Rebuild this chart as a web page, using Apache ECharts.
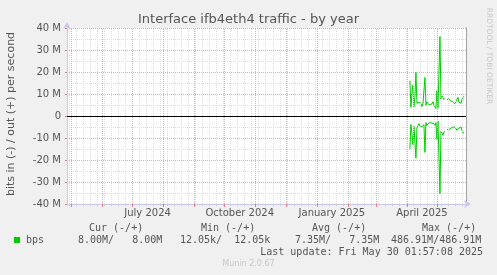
<!DOCTYPE html>
<html><head><meta charset="utf-8">
<script src="https://cdn.jsdelivr.net/npm/echarts@6/dist/echarts.min.js"></script>
<style>html,body{margin:0;padding:0;background:#f0f0f0}#c{width:497px;height:275px}</style>
</head><body><div id="c"></div>
<script>
// ---- data (values in M bits/s) ----
const days = [
 '2025-04-04','2025-04-05','2025-04-06','2025-04-07','2025-04-08','2025-04-09','2025-04-10','2025-04-11',
 '2025-04-12','2025-04-13','2025-04-14','2025-04-15','2025-04-16','2025-04-17','2025-04-18','2025-04-19',
 '2025-04-20','2025-04-21','2025-04-22','2025-04-23','2025-04-24','2025-04-25','2025-04-26','2025-04-27',
 '2025-04-28','2025-04-29','2025-04-30','2025-05-01','2025-05-02','2025-05-03','2025-05-04','2025-05-05',
 '2025-05-06','2025-05-07','2025-05-08','2025-05-09','2025-05-10','2025-05-11','2025-05-12','2025-05-13',
 '2025-05-14','2025-05-15','2025-05-16','2025-05-17','2025-05-18','2025-05-19','2025-05-20','2025-05-21',
 '2025-05-22','2025-05-23','2025-05-24','2025-05-25','2025-05-26','2025-05-27','2025-05-28'
];
const outM = [
 16.1, 3.9, 10.0, 14.1, 4.0, 9.0, 19.8, 5.8,
 5.0, 6.2, 5.5, 5.8, 4.3, 5.5, 6.0, 17.5,
 4.9, 6.5, 5.5, 6.0, 5.2, 6.0, 5.5, 6.5,
 5.0, 4.5, 3.4, 11.5, 3.5, 4.0, 36.1, 7.7,
 9.2, 8.5, 7.5, 8.0, null, 7.4, 8.0, 7.8,
 8.5, 6.9, 7.4, 6.5, 7.2, 5.4, 6.8, 7.6,
 8.5, 6.2, 6.5, 5.8, 7.5, 8.5, 9.0
];
const inM = [
 15.0, 3.8, 8.0, 13.0, 4.7, 5.0, 19.2, 5.4,
 4.5, 3.5, 4.5, 4.0, 4.8, 5.0, 4.0, 16.5,
 3.0, 4.5, 3.5, 4.0, 3.0, 3.8, 3.2, 4.0,
 3.5, 4.5, 3.0, 10.7, 2.3, 3.0, 35.3, 6.9,
 7.5, 8.8, 7.2, 7.0, null, 6.2, 6.5, 6.2,
 5.8, 5.5, 5.8, 5.0, 4.5, 5.0, 5.5, 6.5,
 7.0, 5.5, 6.0, 5.0, 6.5, 7.7, 7.7
];
const yTicksM = [-40, -30, -20, -10, 0, 10, 20, 30, 40];
const monthStarts = ['2024-05-01','2024-06-01','2024-07-01','2024-08-01','2024-09-01','2024-10-01','2024-11-01',
  '2024-12-01','2025-01-01','2025-02-01','2025-03-01','2025-04-01','2025-05-01'];
const labelMonths = ['2024-07-01','2024-10-01','2025-01-01','2025-04-01'];
const labelTexts = ['July 2024','October 2024','January 2025','April 2025'];
const firstMonday = '2024-04-29';
const lastMonday = '2025-05-26';

// ---- helpers ----
const DAY = 86400000;
function ts(s){const [y,m,d]=s.split('-').map(Number);return Date.UTC(y,m-1,d);}
const xMin = ts('2024-04-26') + DAY/2;
const xMax = ts('2025-05-30');
const weeks = [];
for (let t = ts(firstMonday); t <= ts(lastMonday) + 1000; t += 7*DAY) weeks.push(t);
const months = monthStarts.map(ts);
const labelPos = labelMonths.map(s => ts(s) + 15*DAY);

const outData = days.map((d,i)=>[ts(d), outM[i]==null?null:outM[i]*1e6]);
const inData = days.map((d,i)=>[ts(d), inM[i]==null?null:-inM[i]*1e6]);

const GREEN = '#00cc00';
const RED = '#eaa8a8';
const GRAY = '#dddddd';
const AX = '#c8c8ee';

function yFmt(v){ if (v===0) return '0'; return (v/1e6) + ' M'; }

const baseX = {
  type:'value', min:xMin, max:xMax, position:'bottom', gridIndex:0,
  axisLine:{show:false, onZero:false}, axisTick:{show:false}, axisLabel:{show:false}, splitLine:{show:false}
};

const chart = echarts.init(document.getElementById('c'), null, {renderer:'canvas'});
chart.setOption({
  backgroundColor:'#f0f0f0',
  animation:false,
  grid:{left:67, top:28, width:399, height:176, show:true, backgroundColor:'#ffffff', borderWidth:0},
  xAxis:[
    Object.assign({}, baseX, {
      axisLine:{show:true, onZero:false, lineStyle:{color:AX, width:1}, symbol:['none','arrow'], symbolSize:[6,7], symbolOffset:[0,5]},
      axisLabel:{show:true, customValues:labelPos, formatter:(v)=>{const k=labelPos.indexOf(v);return k>=0?labelTexts[k]:'';},
        color:'#555', fontFamily:'DejaVu Sans', fontSize:10, margin:4}
    }),
    Object.assign({}, baseX, {axisTick:{show:true, customValues:weeks, length:2, lineStyle:{color:'#ccc'}}}),
    Object.assign({}, baseX, {axisTick:{show:true, customValues:months, length:3, lineStyle:{color:'#e08080'}}})
  ],
  yAxis:[
    {type:'value', min:-40e6, max:40e6, interval:10e6, position:'left',
     axisLine:{show:true, onZero:false, lineStyle:{color:AX}, symbol:['none','arrow'], symbolSize:[6,7], symbolOffset:[0,6]},
     axisTick:{show:true, length:2, lineStyle:{color:'#e08080'}},
     axisLabel:{formatter:yFmt, color:'#555', fontFamily:'DejaVu Sans', fontSize:10, margin:6},
     splitLine:{show:true, lineStyle:{color:RED, type:[1,1], width:1}},
     minorTick:{show:false, splitNumber:2},
     minorSplitLine:{show:true, lineStyle:{color:GRAY, type:[1,1], width:1}}
    },
    {type:'value', min:-40e6, max:40e6, interval:10e6, position:'right',
     axisLine:{show:true, onZero:false, lineStyle:{color:'#a0a0a0'}}, axisTick:{show:false}, axisLabel:{show:false}, splitLine:{show:false}}
  ],
  series:[
    {type:'line', xAxisIndex:0, yAxisIndex:0, data:[[xMin,null]], silent:true, z:1,
     markLine:{silent:true, symbol:'none', label:{show:false}, animation:false,
       data: weeks.map(t=>({xAxis:t, lineStyle:{color:GRAY, type:[1,1], width:1}}))
         .concat(months.map(t=>({xAxis:t, lineStyle:{color:RED, type:[1,1], width:1}})))
     }},
    {type:'line', xAxisIndex:0, yAxisIndex:0, data:[[xMin,null]], silent:true, z:2,
     markLine:{silent:true, symbol:'none', label:{show:false}, animation:false,
       data:[{yAxis:0, lineStyle:{color:'#000', type:'solid', width:1}}]}},
    {name:'out', type:'line', data:outData, showSymbol:false, connectNulls:false, z:3,
     lineStyle:{color:GREEN, width:1}, itemStyle:{color:GREEN}},
    {name:'in', type:'line', data:inData, showSymbol:false, connectNulls:false, z:3,
     lineStyle:{color:GREEN, width:1}, itemStyle:{color:GREEN}}
  ],
  graphic:[
    {type:'text', left:'center', top:13, style:{text:'Interface ifb4eth4 traffic - by year', fill:'#555', font:'13px "DejaVu Sans"'}},
    {type:'text', x:11, y:114, rotation:Math.PI/2, style:{text:'bits in (-) / out (+) per second', fill:'#555', font:'11px "DejaVu Sans"', align:'center', verticalAlign:'middle'}},
    {type:'text', x:488.5, y:56, rotation:-Math.PI/2, style:{text:'RRDTOOL / TOBI OETIKER', fill:'#c8c8c8', font:'7.5px "DejaVu Sans"', align:'center', verticalAlign:'middle'}},
    {type:'text', x:89, y:228, style:{text:'Cur (-/+)', fill:'#555', font:'10px "DejaVu Sans Mono"', verticalAlign:'middle'}},
    {type:'text', x:201, y:228, style:{text:'Min (-/+)', fill:'#555', font:'10px "DejaVu Sans Mono"', verticalAlign:'middle'}},
    {type:'text', x:312, y:228, style:{text:'Avg (-/+)', fill:'#555', font:'10px "DejaVu Sans Mono"', verticalAlign:'middle'}},
    {type:'text', x:422, y:228, style:{text:'Max (-/+)', fill:'#555', font:'10px "DejaVu Sans Mono"', verticalAlign:'middle'}},
    {type:'rect', shape:{x:14, y:237, width:6, height:6}, style:{fill:GREEN}},
    {type:'text', x:26, y:240, style:{text:'bps', fill:'#555', font:'10px "DejaVu Sans Mono"', verticalAlign:'middle'}},
    {type:'text', x:78, y:240, style:{text:'8.00M/   8.00M', fill:'#555', font:'10px "DejaVu Sans Mono"', verticalAlign:'middle'}},
    {type:'text', x:180, y:240, style:{text:'12.05k/  12.05k', fill:'#555', font:'10px "DejaVu Sans Mono"', verticalAlign:'middle'}},
    {type:'text', x:295, y:240, style:{text:'7.35M/   7.35M', fill:'#555', font:'10px "DejaVu Sans Mono"', verticalAlign:'middle'}},
    {type:'text', x:391, y:240, style:{text:'486.91M/486.91M', fill:'#555', font:'10px "DejaVu Sans Mono"', verticalAlign:'middle'}},
    {type:'text', x:483, y:252, style:{text:'Last update: Fri May 30 01:57:08 2025', fill:'#555', font:'10px "DejaVu Sans Mono"', align:'right', verticalAlign:'middle'}},
    {type:'text', x:248.5, y:263.5, style:{text:'Munin 2.0.67', fill:'#c8c8c8', font:'8px "DejaVu Sans"', align:'center', verticalAlign:'middle'}}
  ]
});
</script></body></html>
